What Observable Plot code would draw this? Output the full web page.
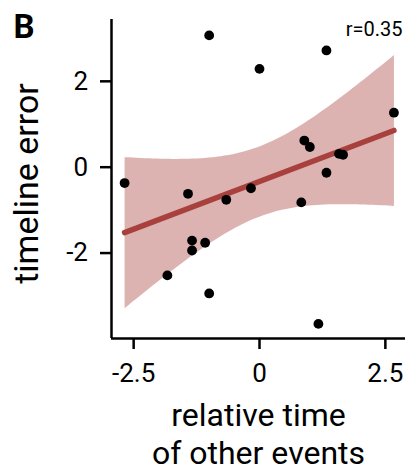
<!DOCTYPE html>
<html><head><meta charset="utf-8">
<script src="https://cdn.jsdelivr.net/npm/d3@7"></script>
<script src="https://cdn.jsdelivr.net/npm/@observablehq/plot@0.6"></script>
<style>html,body{margin:0;padding:0;background:#fff} svg{display:block}</style>
</head><body><div id="chart"></div>
<script>
const relTime = [-1.0, 0.0, 1.33, 2.67, 0.89, 1.0, 1.58, 1.66, -2.68, -1.42, -0.66, -0.17, 0.83, 1.33, -1.34, -1.34, -1.08, -1.83, -1.0, 1.17];
const timelineError = [3.07, 2.29, 2.72, 1.27, 0.62, 0.47, 0.31, 0.29, -0.37, -0.62, -0.76, -0.49, -0.82, -0.13, -1.71, -1.94, -1.76, -2.52, -2.94, -3.65];
const xTicks = [-2.5, 0, 2.5];
const yTicks = [-2, 0, 2];
const panelLabel = "B";
const corrLabel = "r=0.35";
const xTitleLines = ["relative time", "of other events"];
const yTitle = "timeline error";
const xDomain = [-2.94, 2.90];
const yDomain = [-3.99, 3.44];

const data = relTime.map((x, i) => ({x, y: timelineError[i]}));
const red = "#a8403d";
const fmt = d => String(d);

const chart = Plot.plot({
  width: 405, height: 470,
  marginLeft: 111, marginRight: 0, marginTop: 19, marginBottom: 132,
  style: {fontFamily: "Roboto, sans-serif", color: "#000", background: "#fff"},
  x: {domain: xDomain},
  y: {domain: yDomain},
  marks: [
    Plot.linearRegressionY(data, {x: "x", y: "y", stroke: red, fill: red, fillOpacity: 0.4, strokeWidth: 5.5, ci: 0.95}),
    Plot.dot(data, {x: "x", y: "y", r: 4.9, fill: "#000"}),
    Plot.ruleX([xDomain[0]], {stroke: "#000", strokeWidth: 2.5}),
    Plot.ruleY([yDomain[0]], {stroke: "#000", strokeWidth: 2.5}),
    Plot.axisX({ticks: xTicks, tickFormat: fmt, tickSize: 11, tickPadding: 14, stroke: "#000", strokeWidth: 2.5, fontSize: 26, label: null}),
    Plot.axisY({ticks: yTicks, tickFormat: fmt, tickSize: 11, tickPadding: 12.5, stroke: "#000", strokeWidth: 2.5, fontSize: 26, label: null}),
    Plot.text([yTitle], {frameAnchor: "left", dx: -74, dy: 4.5, rotate: -90, textAnchor: "middle", lineAnchor: "bottom", fontSize: 34, fill: "#000"}),
    Plot.text([xTitleLines[0]], {frameAnchor: "bottom", dy: 87, textAnchor: "middle", lineAnchor: "bottom", fontSize: 32, fill: "#000"}),
    Plot.text([xTitleLines[1]], {frameAnchor: "bottom", dy: 125, textAnchor: "middle", lineAnchor: "bottom", fontSize: 32, fill: "#000"}),
    Plot.text([panelLabel], {frameAnchor: "top-left", dx: -98, dy: 18, textAnchor: "start", lineAnchor: "bottom", fontSize: 33, fontWeight: "bold", fill: "#000"}),
    Plot.text([corrLabel], {frameAnchor: "top-right", dx: -3, dy: 16, textAnchor: "end", lineAnchor: "bottom", fontSize: 20, fill: "#000"})
  ]
});
document.getElementById("chart").appendChild(chart);
</script>
</body></html>
